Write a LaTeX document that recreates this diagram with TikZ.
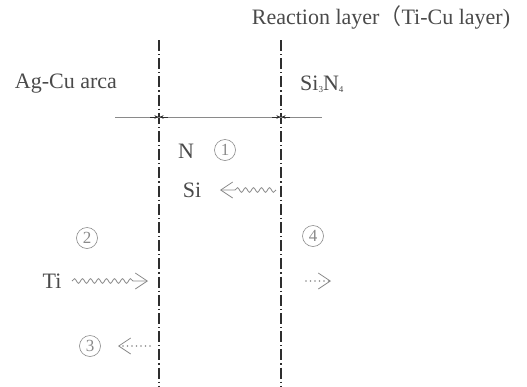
\documentclass[tikz,border=0pt]{standalone}
\usepackage{fontspec}
\setmainfont{Liberation Serif}
\newfontfamily\cjk{Noto Sans CJK SC}
\usetikzlibrary{arrows.meta,decorations.pathmorphing}
\definecolor{txt}{HTML}{4A4A4A}
\definecolor{lin}{HTML}{2E2E2E}
\definecolor{num}{HTML}{8A8A8A}
\newcommand{\tinysub}[1]{\raisebox{-2pt}{\fontsize{9}{9}\selectfont #1}}
\tikzset{
  lbl/.style={text=txt,font=\fontsize{22}{24}\selectfont,inner sep=0pt},
  cnum/.style={circle,draw=num,text=num,line width=0.6pt,minimum size=21pt,inner sep=0pt,font=\fontsize{17}{17}\selectfont},
  bound/.style={draw=lin,line width=1.1pt,dash pattern=on 11pt off 3pt on 1.2pt off 3pt},
  wavy/.style={draw=num,line width=0.8pt,decorate,decoration={snake,amplitude=2.3pt,segment length=8pt,post length=13pt},-{Straight Barb[length=12pt,width=16pt,line width=0.8pt]}},
  dotarr/.style={draw=num,line width=1.8pt,line cap=round,dash pattern=on 0pt off 4.5pt,-{Straight Barb[length=12pt,width=16pt,line width=0.8pt,sep=0pt,line cap=butt]}},
  dim/.style={draw=lin,line width=0.5pt,-{Stealth[length=4pt,width=3.5pt]}}
}
\begin{document}
\begin{tikzpicture}[x=1pt,y=-1pt]
\useasboundingbox (0,0) rectangle (527,386);
% boundaries
\coordinate (lt) at (159,40); \coordinate (lb) at (159,386);
\coordinate (rt) at (281,40); \coordinate (rb) at (281,386);
\draw[bound] (lt) -- (lb);
\draw[bound] (rt) -- (rb);
% horizontal dimension line
\coordinate (h1) at (115,117); \coordinate (h2) at (322,117);
\draw[draw=num,line width=0.6pt] (h1) -- (h2);
\coordinate (la) at (150,117); \coordinate (lc) at (158.5,117); \coordinate (ld) at (168,117); \coordinate (le) at (159.5,117);
\coordinate (ra) at (272,117); \coordinate (rc) at (280.5,117); \coordinate (rd) at (290,117); \coordinate (re) at (281.5,117);
\draw[dim] (la) -- (lc); \draw[dim] (ld) -- (le);
\draw[dim] (ra) -- (rc); \draw[dim] (rd) -- (re);
% labels
\node[lbl] (title) at (381,17) {Reaction layer{\cjk （}Ti-Cu layer)};
\node[lbl] (agcu) at (66,84) {Ag-Cu arca};
\node[lbl,anchor=west] (sin) at (300,84) {Si\tinysub{3}N\tinysub{4}};
\node[lbl] (n) at (186,151) {N};
\node[cnum] (c1) at (225,150) {1};
\node[lbl] (si) at (192,190) {Si};
\node[cnum] (c2) at (87,238) {2};
\node[cnum] (c4) at (313,236) {4};
\node[lbl] (ti) at (52,281) {Ti};
\node[cnum] (c3) at (90,346) {3};
% arrows
\coordinate (w1s) at (276,190); \coordinate (w1e) at (220,190);
\draw[wavy] (w1s) -- (w1e);
\coordinate (w2s) at (72,281); \coordinate (w2e) at (148,281);
\draw[wavy] (w2s) -- (w2e);
\coordinate (d1s) at (306,281); \coordinate (d1e) at (331,281);
\draw[dotarr] (d1s) -- (d1e);
\coordinate (d2s) at (150,346); \coordinate (d2e) at (118,346);
\draw[dotarr] (d2s) -- (d2e);
\end{tikzpicture}
\end{document}
